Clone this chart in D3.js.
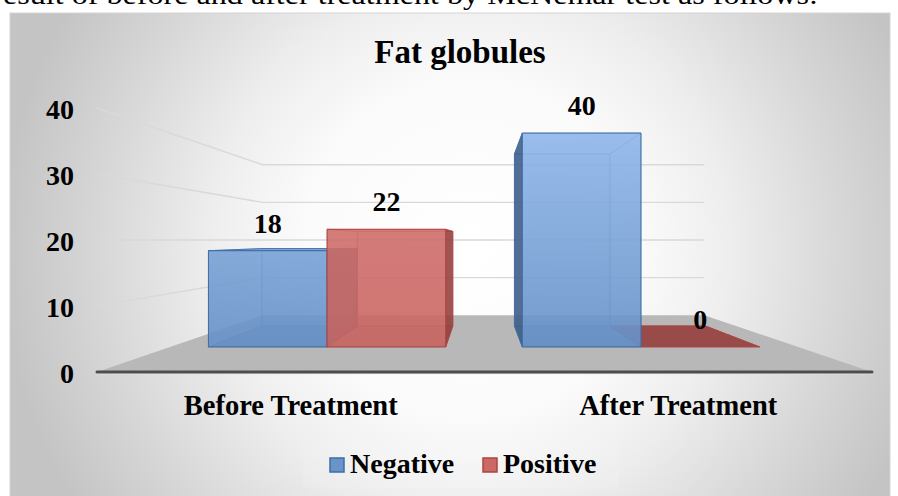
<!DOCTYPE html>
<html>
<head>
<meta charset="utf-8">
<script src="https://cdn.jsdelivr.net/npm/d3@7"></script>
<style>
  html, body { margin: 0; padding: 0; background: #ffffff; }
  svg { display: block; }
  text { font-family: "Liberation Serif", "DejaVu Serif", serif; }
</style>
</head>
<body>
<div id="chart"></div>
<script>
// ---- data ----
const categories = ["Before Treatment", "After Treatment"];
const seriesNames = ["Negative", "Positive"];
const negative = [18, 40];
const positive = [22, 0];
const yTicks = [0, 10, 20, 30, 40];
const chartTitle = "Fat globules";
const leadText = "esult of before and after treatment by McNemar test as follows:";

const W = 898, H = 496;
const svg = d3.select("#chart").append("svg").attr("width", W).attr("height", H);
const defs = svg.append("defs");

// background of the chart area
const bg = defs.append("radialGradient").attr("id", "bgGrad")
  .attr("gradientUnits", "userSpaceOnUse").attr("cx", 470).attr("cy", 250).attr("r", 470);
[[0, "#ffffff"], [0.35, "#fbfbfb"], [0.55, "#eeeeee"], [0.8, "#d6d6d6"], [1, "#c4c4c4"]].forEach(([o, c]) =>
  bg.append("stop").attr("offset", o).attr("stop-color", c));

// bar front gradients
const blueGrad = defs.append("linearGradient").attr("id", "blueFront")
  .attr("gradientUnits", "userSpaceOnUse").attr("x1", 0).attr("x2", 0).attr("y1", 130).attr("y2", 350);
blueGrad.append("stop").attr("offset", 0).attr("stop-color", "#8fb8ec");
blueGrad.append("stop").attr("offset", 1).attr("stop-color", "#648fc6");
const redGrad = defs.append("linearGradient").attr("id", "redFront")
  .attr("gradientUnits", "userSpaceOnUse").attr("x1", 0).attr("x2", 0).attr("y1", 130).attr("y2", 350);
redGrad.append("stop").attr("offset", 0).attr("stop-color", "#d57471");
redGrad.append("stop").attr("offset", 1).attr("stop-color", "#c96663");

// leading line of body text above the chart
svg.append("text")
  .attr("x", 3).attr("y", 4)
  .attr("textLength", 815).attr("lengthAdjust", "spacingAndGlyphs")
  .style("font-size", "27px").attr("fill", "#000")
  .text(leadText);

// chart frame
svg.append("rect").attr("x", 10).attr("y", 13).attr("width", 880).attr("height", 490)
  .attr("fill", "url(#bgGrad)").attr("stroke", "#d4d4d4").attr("stroke-width", 1);

// ---- scales ----
const x = d3.scaleBand().domain(categories).range([97, 872])
  .paddingInner(0.244).paddingOuter(0.122);
const xs = d3.scaleBand().domain(seriesNames).range([0, x.bandwidth()]);
const y = d3.scaleLinear().domain([0, 40]).range([372, 108]);

// perspective: vanishing point and plane depths
const vp = { x: 482, y: 240 };
const WALL_BACK = 0.57, BAR_FRONT = 0.81, BAR_BACK = 0.652;
const proj = (X, Y, s) => [vp.x + s * (X - vp.x), vp.y + s * (Y - vp.y)];
const [X0, X1] = x.range();

// ---- walls: gridlines ----
const grid = svg.append("g").attr("fill", "none").attr("stroke", "#d9d9d9").attr("stroke-width", 1.4);
yTicks.filter(v => v > 0).forEach(v => {
  const a = proj(X0, y(v), 1), b = proj(X0, y(v), WALL_BACK), c = proj(X1, y(v), WALL_BACK);
  grid.append("path").attr("d", d3.line()([a, b, c]));
});

// ---- floor ----
const floorPts = [proj(X0, y(0), 1), proj(X1, y(0), 1), proj(X1, y(0), WALL_BACK), proj(X0, y(0), WALL_BACK)];
svg.append("path").attr("d", d3.line()(floorPts) + "Z").attr("fill", "#b8b8b8");
svg.append("line")
  .attr("x1", X0).attr("x2", X1).attr("y1", y(0) + 1.2).attr("y2", y(0) + 1.2)
  .attr("stroke", "#e6e6e6").attr("stroke-width", 2).attr("stroke-linecap", "round");
svg.append("line")
  .attr("x1", X0).attr("x2", X1).attr("y1", y(0)).attr("y2", y(0))
  .attr("stroke", "#4d4d4d").attr("stroke-width", 3).attr("stroke-linecap", "round");

// ---- bars ----
const styles = {
  Negative: { front: "url(#blueFront)", near: "#3c5b84", far: "#6f98cf", bottom: "#4a72a8", top: "#7ea6db", stroke: "#3f6da5", legend: "#6a93c9" },
  Positive: { front: "url(#redFront)", near: "#8f3f3e", far: "#c96663", bottom: "#9c4947", top: "#974846", stroke: "#ad4542", legend: "#cc6966" }
};

const boxes = [];
categories.forEach((cat, i) => {
  [["Negative", negative[i]], ["Positive", positive[i]]].forEach(([name, v]) => {
    const a = x(cat) + xs(name), b = a + xs.bandwidth();
    boxes.push({ cat, name, v, a, b });
  });
});
// paint the boxes farthest from the vanishing point first
boxes.sort((p, q) => Math.abs((q.a + q.b) / 2 - vp.x) - Math.abs((p.a + p.b) / 2 - vp.x));

const line = d3.line();
const barLayer = svg.append("g");
boxes.forEach(d => {
  const st = styles[d.name];
  const y0 = y(0), y1 = y(d.v);
  const fbl = proj(d.a, y0, BAR_FRONT), fbr = proj(d.b, y0, BAR_FRONT);
  const ftl = proj(d.a, y1, BAR_FRONT), ftr = proj(d.b, y1, BAR_FRONT);
  const bbl = proj(d.a, y0, BAR_BACK), bbr = proj(d.b, y0, BAR_BACK);
  const btl = proj(d.a, y1, BAR_BACK), btr = proj(d.b, y1, BAR_BACK);
  const g = barLayer.append("g").attr("stroke-linejoin", "round");
  const face = (pts, fill, op, strokeOp) => g.append("path")
    .attr("d", line(pts) + "Z").attr("fill", fill).attr("fill-opacity", op)
    .attr("stroke", st.stroke).attr("stroke-opacity", strokeOp).attr("stroke-width", 1);

  const rightNear = (d.a + d.b) / 2 < vp.x;
  const topNear = y1 > vp.y;
  // hidden faces, seen through the translucent front
  face([bbl, bbr, btr, btl], st.far, 0.3, 0.45);
  face([fbl, fbr, bbr, bbl], st.bottom, 0.45, 0.45);
  if (!topNear) face([ftl, ftr, btr, btl], st.far, 0.25, 0.45);
  face(rightNear ? [fbl, ftl, btl, bbl] : [fbr, ftr, btr, bbr], st.far, 0.25, 0.4);
  // visible side and top
  face(rightNear ? [fbr, ftr, btr, bbr] : [fbl, ftl, btl, bbl], st.near, 0.85, 0.9);
  if (topNear) face([ftl, ftr, btr, btl], st.top, 0.95, 0.9);
  // front
  if (d.v > 0) face([fbl, fbr, ftr, ftl], st.front, 0.86, 1);

  // value label above the front face
  const mid = proj((d.a + d.b) / 2, y1, BAR_FRONT);
  svg.append("text").attr("class", "val")
    .attr("x", mid[0]).attr("y", mid[1] - 18)
    .attr("text-anchor", "middle").style("font-size", "28px").style("font-weight", "bold")
    .attr("fill", "#000").text(d.v);
});
// keep value labels above every bar
svg.selectAll("text.val").raise();

// ---- value axis labels ----
const axis = svg.append("g").attr("transform", "translate(74,2)")
  .call(d3.axisLeft(y).tickValues(yTicks).tickSize(0).tickPadding(0));
axis.select(".domain").remove();
axis.selectAll("text").style("font-family", "'Liberation Serif', serif")
  .style("font-size", "28px").style("font-weight", "bold").attr("fill", "#000");

// ---- category labels ----
svg.append("g").selectAll("text").data(categories).join("text")
  .attr("x", c => x(c) + x.bandwidth() / 2).attr("y", 415)
  .attr("text-anchor", "middle").style("font-size", "28.5px").style("font-weight", "bold")
  .attr("fill", "#000").text(c => c);

// ---- title ----
svg.append("text").attr("x", 460).attr("y", 63).attr("text-anchor", "middle")
  .style("font-size", "33px").style("font-weight", "bold").attr("fill", "#000").text(chartTitle);

// ---- legend ----
svg.append("rect").attr("x", 303).attr("y", 444).attr("width", 316).attr("height", 44)
  .attr("fill", "#ffffff").attr("fill-opacity", 0.1);
const legendX = [330, 483];
const legend = svg.append("g").selectAll("g").data(seriesNames).join("g")
  .attr("transform", (n, i) => `translate(${legendX[i]},458)`);
legend.append("rect").attr("width", 14).attr("height", 14)
  .attr("fill", n => styles[n].legend).attr("stroke", n => styles[n].stroke).attr("stroke-width", 1.5);
legend.append("text").attr("x", 20).attr("y", 15)
  .style("font-size", "28px").style("font-weight", "bold").attr("fill", "#000").text(n => n);
</script>
</body>
</html>
